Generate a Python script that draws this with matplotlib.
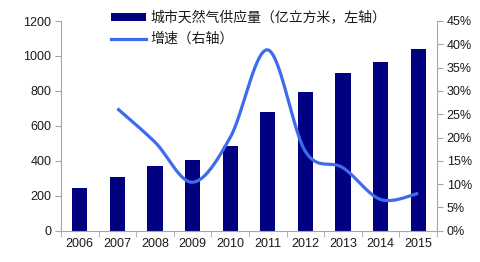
import numpy as np
import matplotlib
matplotlib.use("Agg")
import matplotlib.pyplot as plt
from matplotlib.patches import Patch
from matplotlib.lines import Line2D

years = ["2006", "2007", "2008", "2009", "2010", "2011", "2012", "2013", "2014", "2015"]
supply = [243, 309, 368, 403, 486, 677, 795, 900, 967, 1039]
growth_years = ["2007", "2008", "2009", "2010", "2011", "2012", "2013", "2014", "2015"]
growth = [26.2, 19.0, 10.4, 20.0, 38.8, 17.0, 13.5, 6.7, 8.0]

bar_label = "城市天然气供应量（亿立方米，左轴）"
line_label = "增速（右轴）"

BAR_C = "#000080"
LINE_C = "#3D6BF0"
AX_C = "#A6A6A6"

plt.rcParams['font.family'] = ['Liberation Sans', 'DejaVu Sans']

fig = plt.figure(figsize=(4.8, 2.62), dpi=100)
ax = fig.add_axes([61/480, 1-230.7/262, (437-61)/480, (230.7-21)/262])
ax2 = ax.twinx()

x = np.arange(len(years))
ax.bar(x, supply, width=0.4, color=BAR_C, zorder=2)
ax.set_xlim(-0.5, len(years)-0.5)
ax.set_ylim(0, 1200)
ax.set_yticks(np.arange(0, 1201, 200))

# smooth curve (Catmull-Rom, as in spreadsheet smoothed lines)
gx = np.array([years.index(y) for y in growth_years], dtype=float)
gy = np.array(growth, dtype=float)
P = np.column_stack([gx, gy])
Pe = np.vstack([P[0], P, P[-1]])
cx, cy = [], []
t = np.linspace(0, 1, 40)
for i in range(1, len(Pe)-2):
    p0, p1, p2, p3 = Pe[i-1], Pe[i], Pe[i+1], Pe[i+2]
    c1 = p1 + (p2 - p0) / 6
    c2 = p2 - (p3 - p1) / 6
    seg = ((1-t)**3)[:, None]*p1 + (3*(1-t)**2*t)[:, None]*c1 + (3*(1-t)*t**2)[:, None]*c2 + (t**3)[:, None]*p2
    cx.extend(seg[:, 0]); cy.extend(seg[:, 1])
ax2.plot(cx, cy, color=LINE_C, lw=2.3, solid_capstyle='butt', zorder=3)
ax2.set_ylim(0, 45)
ax2.set_yticks(np.arange(0, 46, 5))
ax2.set_yticklabels([f"{v}%" for v in range(0, 46, 5)])

ax.set_xticks(x)
ax.set_xticklabels(years)
ax.set_xticks(np.arange(-0.5, len(years), 1), minor=True)
ax.tick_params(axis='x', which='major', length=0, labelsize=9, pad=5, colors='#1a1a1a')
ax.tick_params(axis='x', which='minor', length=4, color=AX_C, direction='out')
ax.tick_params(axis='y', length=4, color=AX_C, labelsize=9, colors='#1a1a1a', pad=3)
ax.tick_params(axis='y', color=AX_C)
ax2.tick_params(axis='y', length=4, color=AX_C, labelsize=9, labelcolor='#1a1a1a', pad=3)

for a in (ax, ax2):
    for s in a.spines.values():
        s.set_color(AX_C)
        s.set_linewidth(0.8)
    a.spines['top'].set_visible(False)
ax2.spines['left'].set_visible(False)
ax2.spines['bottom'].set_visible(False)
ax.spines['right'].set_visible(False)

handles = [Patch(facecolor=BAR_C, edgecolor='none'), Line2D([], [], color=LINE_C, lw=2.3)]
leg = fig.legend(handles, [bar_label, line_label], loc='upper left',
                 bbox_to_anchor=(111/480, 1-11/262), frameon=False,
                 prop={'family': ['Noto Sans CJK SC', 'DejaVu Sans'], 'size': 10},
                 handlelength=2.5, handleheight=0.5, handletextpad=0.35,
                 labelspacing=0.5, borderpad=0, borderaxespad=0)
for txt in leg.get_texts():
    txt.set_color('#1a1a1a')

fig.savefig("out.png", dpi=100)
